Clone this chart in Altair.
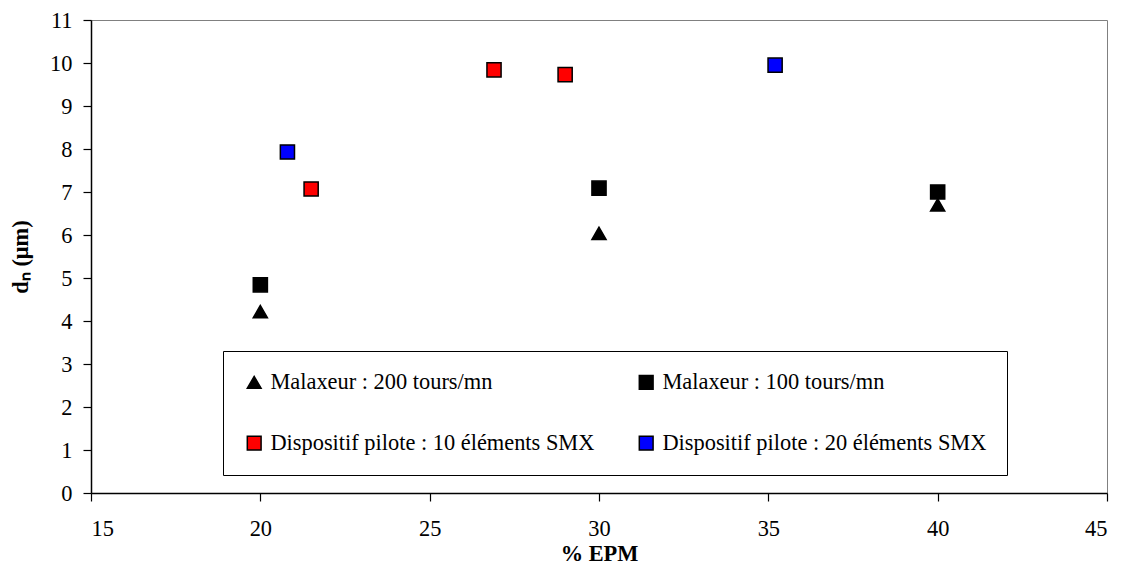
import altair as alt
import pandas as pd

series_names = [
    "Malaxeur : 200 tours/mn",
    "Malaxeur : 100 tours/mn",
    "Dispositif pilote : 10 éléments SMX",
    "Dispositif pilote : 20 éléments SMX",
]
m200_x = [20, 30, 40]
m200_y = [4.22, 6.04, 6.7]
m100_x = [20, 30, 40]
m100_y = [4.84, 7.09, 7.0]
smx10_x = [21.5, 26.9, 29.0]
smx10_y = [7.07, 9.84, 9.73]
smx20_x = [20.8, 35.2]
smx20_y = [7.93, 9.95]

fills = ["#000000", "#000000", "#FF0000", "#0000FF"]
shapes = ["triangle-up", "square", "square", "square"]

rows = []
for name, xs, ys in zip(series_names,
                        [m200_x, m100_x, smx10_x, smx20_x],
                        [m200_y, m100_y, smx10_y, smx20_y]):
    for xv, yv in zip(xs, ys):
        rows.append({"series": name, "epm": xv, "dn": yv})
df = pd.DataFrame(rows)

FONT = "Liberation Serif, Times New Roman, serif"
FS = 22.4

chart = alt.Chart(df).mark_point(
    filled=True, stroke="black", strokeWidth=1.5, size=200, opacity=1
).encode(
    x=alt.X("epm:Q", title="% EPM",
            scale=alt.Scale(domain=[15, 45], nice=False, zero=False),
            axis=alt.Axis(values=[15, 20, 25, 30, 35, 40, 45], grid=False,
                          tickSize=8, labelPadding=16, titlePadding=3)),
    y=alt.Y("dn:Q", title="dₙ (μm)",
            scale=alt.Scale(domain=[0, 11], nice=False),
            axis=alt.Axis(values=list(range(0, 12)), grid=False,
                          tickSize=8, labelPadding=11, titlePadding=17)),
    color=alt.Color("series:N", sort=series_names,
                    scale=alt.Scale(domain=series_names, range=fills),
                    legend=alt.Legend(
                        title=None, orient="none", legendX=132, legendY=331,
                        columns=2, direction="horizontal",
                        strokeColor="black", fillColor="white", padding=20,
                        rowPadding=38, columnPadding=40,
                        labelFont=FONT, labelFontSize=FS, labelColor="black",
                        labelLimit=500, labelOffset=5,
                        symbolSize=190, symbolStrokeColor="black",
                        symbolStrokeWidth=1.5, symbolOpacity=1)),
    shape=alt.Shape("series:N", sort=series_names,
                    scale=alt.Scale(domain=series_names, range=shapes),
                    legend=None),
).properties(
    width=1016, height=473,
    autosize=alt.AutoSizeParams(type="none"),
    padding={"left": 83, "top": 12, "right": 10, "bottom": 74},
).configure_view(
    stroke="#808080", strokeWidth=1
).configure_axis(
    labelFont=FONT, labelFontSize=FS, labelColor="black",
    titleFont=FONT, titleFontSize=FS, titleFontWeight="bold", titleColor="black",
    domainColor="black", domainWidth=1.5, tickColor="black", tickWidth=1.2,
)

chart.save("out.html", embed_options={"renderer": "svg", "actions": False})
